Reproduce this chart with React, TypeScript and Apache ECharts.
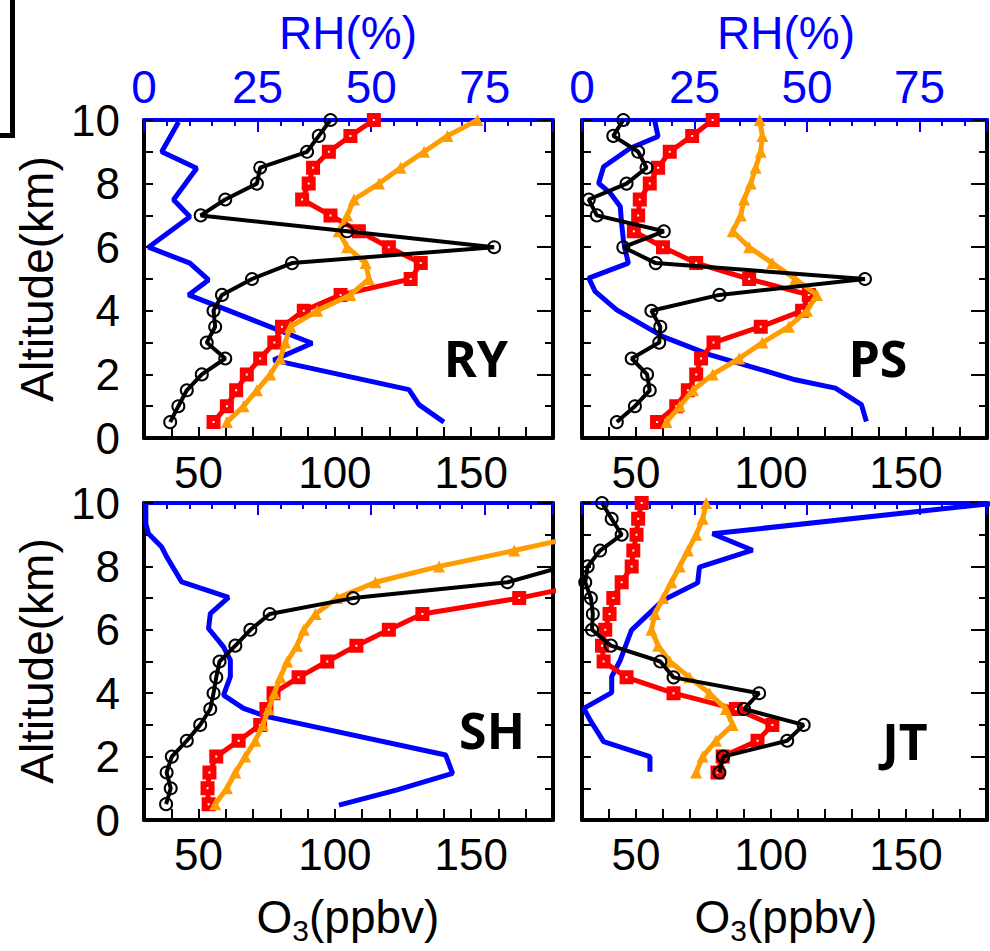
import React, { useEffect, useRef } from 'react';
import * as echarts from 'echarts';

// Altitude levels (km) shared by the O3 profiles
const ALT = [0.5, 1, 1.5, 2, 2.5, 3, 3.5, 4, 4.5, 5, 5.5, 6, 6.5, 7, 7.5, 8, 8.5, 9, 9.5, 10];

const PANEL_NAMES = ['RY', 'PS', 'SH', 'JT'];

// O3 (ppbv) profiles
const RY_BLACK = [39.6, 42.6, 45.7, 51.2, 59.8, 53.0, 56.1, 55.5, 58.6, 69.6, 84.3, 158.4, 104.5, 50.8, 59.8, 71.4, 72.6, 89.8, 94.1, 98.4];
const RY_RED = [55.5, 60.4, 63.8, 67.7, 72.6, 77.8, 80.6, 88.6, 102.1, 127.8, 131.5, 119.8, 108.8, 98.4, 88.0, 90.4, 92.0, 97.8, 105.7, 114.3];
const RY_ORANGE = [60.4, 66.5, 71.4, 76.3, 80.0, 81.8, 83.7, 93.5, 105.7, 112.5, 111.3, 104.5, 101.4, 104.5, 107.0, 116.2, 124.1, 132.7, 141.3, 152.3];

const PS_BLACK = [42.9, 49.6, 55.1, 54.1, 48.4, 58.6, 59.0, 55.7, 80.9, 134.8, 57.3, 45.3, 60.3, 35.5, 32.5, 46.5, 53.9, 50.8, 41.6, 45.3];
const PS_RED = [57.8, 64.9, 69.2, 72.3, 74.1, 78.7, 96.2, 111.5, 114.0, 91.9, 72.3, 60.0, 49.2, 50.8, 51.4, 55.1, 58.2, 62.5, 70.8, 78.4];
const PS_ORANGE = [61.3, 66.2, 71.1, 78.4, 88.2, 96.8, 106.6, 113.3, 117.0, 109.0, 100.5, 91.9, 85.8, 88.8, 90.0, 92.5, 94.3, 96.2, 96.8, 95.8];

const SH_BLACK = [38.1, 39.8, 38.3, 40.2, 45.7, 50.6, 54.3, 55.5, 56.5, 57.7, 63.5, 69.0, 76.1, 106.7, 163.3, 184, null, null, null, null];
const SH_RED = [53.7, 53.3, 54.0, 56.5, 64.7, 72.6, 74.9, 77.5, 86.7, 97.2, 107.9, 119.8, 132.1, 167.6, 196, null, null, null, null, null];
const SH_ORANGE = [56.1, 60.4, 63.5, 67.1, 70.8, 73.6, 75.7, 77.8, 80.0, 82.5, 86.1, 88.6, 92.9, 100.8, 114.9, 138.2, 165.8, 192, null, null];

const JT_BLACK = [null, null, 80.9, 82.3, 106.0, 112.1, 90.0, 95.6, 63.9, 59.0, 40.7, 33.7, 34.0, 33.3, 31.2, 32.1, 36.7, 44.7, 41.0, 37.4];
const JT_RED = [null, null, 80.2, 82.1, 95.0, 100.5, 87.0, 63.9, 46.5, 38.0, 37.4, 38.6, 40.2, 41.6, 44.7, 48.4, 49.0, 50.2, 50.8, 52.1];
const JT_ORANGE = [null, null, 72.3, 74.7, 79.6, 85.8, 83.3, 77.2, 69.8, 62.5, 58.2, 55.7, 57.0, 60.0, 63.1, 66.2, 69.2, 72.3, 74.7, 76.0];

// RH (%) profiles: values and their altitudes (km)
const RY_RH = [66.0, 60.5, 58.3, 28.5, 37.0, 9.8, 14.2, 10.1, 1.0, 10.1, 6.5, 11.6, 3.9, 7.6];
const RY_RH_ALT = [0.5, 1.05, 1.52, 2.45, 2.98, 4.5, 4.97, 5.5, 6.0, 6.96, 7.49, 8.48, 9.0, 9.94];
const PS_RH = [63.2, 62.1, 56.3, 47.4, 38.6, 28.3, 18.0, 7.7, 2.9, 1.5, 10.3, 9.6, 9.2, 8.8, 8.5, 6.3, 3.7, 4.8, 10.7, 16.9, 16.2];
const PS_RH_ALT = [0.52, 1.05, 1.57, 1.83, 2.2, 2.62, 3.19, 4.03, 4.61, 5.03, 5.5, 5.92, 6.23, 6.75, 7.28, 7.7, 8.01, 8.53, 9.11, 9.48, 9.95];
const SH_RH = [42.9, 55.7, 67.9, 66.4, 27.1, 21.9, 17.5, 19.0, 19.0, 17.5, 14.2, 14.6, 18.6, 8.3, 5.0, 3.9, 1.0, 0.4, 0.4];
const SH_RH_ALT = [0.47, 0.95, 1.47, 2.05, 3.26, 3.52, 3.94, 4.52, 5.04, 5.46, 6.04, 6.51, 7.02, 7.51, 8.3, 8.61, 9.03, 9.35, 9.98];
const JT_RH = [15.1, 15.1, 4.8, 1.8, 0.4, 6.6, 6.6, 8.5, 11.0, 18.0, 25.7, 26.1, 37.9, 29.0, 92];
const JT_RH_ALT = [1.52, 2.0, 2.47, 3.15, 3.52, 4.02, 4.52, 5.04, 5.99, 6.93, 7.48, 7.98, 8.51, 9.03, 10];

const O3_TICKS = [50, 100, 150];
const RH_TICKS = [0, 25, 50, 75];
const ALT_TICKS = [0, 2, 4, 6, 8, 10];

const PANELS = [
  { black: RY_BLACK, red: RY_RED, orange: RY_ORANGE, rh: RY_RH, rhAlt: RY_RH_ALT },
  { black: PS_BLACK, red: PS_RED, orange: PS_ORANGE, rh: PS_RH, rhAlt: PS_RH_ALT },
  { black: SH_BLACK, red: SH_RED, orange: SH_ORANGE, rh: SH_RH, rhAlt: SH_RH_ALT },
  { black: JT_BLACK, red: JT_RED, orange: JT_ORANGE, rh: JT_RH, rhAlt: JT_RH_ALT },
];

const GRIDS = [
  { left: 144, top: 120, width: 409, height: 318 },
  { left: 582, top: 120, width: 409, height: 318 },
  { left: 144, top: 503, width: 409, height: 317 },
  { left: 582, top: 503, width: 409, height: 317 },
];

const LABEL_POS = [
  [476, 358],
  [878, 358],
  [492, 730],
  [905, 741],
];

const FONT = '"Liberation Sans", Arial, Helvetica, sans-serif';
const BLUE = '#0000FF';
const ORANGE = '#FF9C00';
const RED = '#FF0000';

function pairs(vals: (number | null)[], alts: number[]) {
  return vals.map((v, i) => [v, alts[i]]);
}

export default function App() {
  const ref = useRef<HTMLDivElement>(null);

  useEffect(() => {
    if (!ref.current) return;
    const chart = echarts.init(ref.current, null, { renderer: 'svg' });

    const xAxis: any[] = [];
    const yAxis: any[] = [];
    const series: any[] = [];

    GRIDS.forEach((g, i) => {
      const upper = i < 2;
      const leftCol = i % 2 === 0;
      // O3 bottom axis
      xAxis.push({
        gridIndex: i,
        type: 'value',
        position: 'bottom',
        min: 30,
        max: 180,
        interval: 10,
        axisLine: { onZero: false, lineStyle: { color: '#000', width: 4 } },
        axisTick: { inside: true, length: 11, lineStyle: { color: '#000', width: 2 } },
        axisLabel: {
          fontSize: 44,
          fontFamily: FONT,
          color: '#000',
          margin: 12,
          formatter: (v: number) => (O3_TICKS.includes(v) ? String(v) : ''),
        },
        splitLine: { show: false },
      });
      // RH top axis (minor ticks + line)
      xAxis.push({
        gridIndex: i,
        type: 'value',
        position: 'top',
        min: 0,
        max: 90,
        interval: 5,
        axisLine: { onZero: false, lineStyle: { color: BLUE, width: 4 } },
        axisTick: { inside: true, length: 6, lineStyle: { color: BLUE, width: 2 } },
        axisLabel: { show: false },
        splitLine: { show: false },
      });
      // RH top axis (major ticks + labels)
      xAxis.push({
        gridIndex: i,
        type: 'value',
        position: 'top',
        min: 0,
        max: 90,
        interval: 25,
        axisLine: { show: false, onZero: false },
        axisTick: { inside: true, length: 12, lineStyle: { color: BLUE, width: 2 } },
        axisLabel: {
          show: upper,
          fontSize: 46,
          fontFamily: FONT,
          color: BLUE,
          margin: 10,
          formatter: (v: number) => (RH_TICKS.includes(v) ? String(v) : ''),
        },
        splitLine: { show: false },
      });
      // Altitude left axis
      yAxis.push({
        gridIndex: i,
        type: 'value',
        position: 'left',
        min: 0,
        max: 10,
        interval: 1,
        axisLine: { onZero: false, lineStyle: { color: '#000', width: 4 } },
        axisTick: { inside: true, length: 9, lineStyle: { color: '#000', width: 2 } },
        axisLabel: {
          show: leftCol,
          fontSize: 44,
          fontFamily: FONT,
          color: '#000',
          margin: 24,
          formatter: (v: number) => (ALT_TICKS.includes(v) ? String(v) : ''),
        },
        splitLine: { show: false },
      });
      // Altitude right axis
      yAxis.push({
        gridIndex: i,
        type: 'value',
        position: 'right',
        min: 0,
        max: 10,
        interval: 2,
        axisLine: { onZero: false, lineStyle: { color: '#000', width: 4 } },
        axisTick: { inside: true, length: 16, lineStyle: { color: '#000', width: 2 } },
        minorTick: { show: true, splitNumber: 2, length: 8, lineStyle: { color: '#000', width: 2 } },
        axisLabel: { show: false },
        splitLine: { show: false },
      });

      const p = PANELS[i];
      const xO3 = 3 * i;
      const xRH = 3 * i + 1;
      const yi = 2 * i;
      series.push({
        type: 'line',
        xAxisIndex: xRH,
        yAxisIndex: yi,
        data: pairs(p.rh, p.rhAlt),
        showSymbol: false,
        symbol: 'none',
        lineStyle: { color: BLUE, width: 5 },
        clip: true,
        z: 2,
      });
      series.push({
        type: 'line',
        xAxisIndex: xO3,
        yAxisIndex: yi,
        data: pairs(p.red, ALT),
        symbol: 'rect',
        symbolSize: 8,
        itemStyle: { color: '#ffffff', borderColor: RED, borderWidth: 6 },
        lineStyle: { color: RED, width: 5 },
        clip: true,
        z: 3,
      });
      series.push({
        type: 'line',
        xAxisIndex: xO3,
        yAxisIndex: yi,
        data: pairs(p.orange, ALT),
        symbol: 'triangle',
        symbolSize: 12,
        itemStyle: { color: ORANGE },
        lineStyle: { color: ORANGE, width: 5 },
        clip: true,
        z: 4,
      });
      series.push({
        type: 'line',
        xAxisIndex: xO3,
        yAxisIndex: yi,
        data: pairs(p.black, ALT),
        symbol: 'circle',
        symbolSize: 12,
        itemStyle: { color: 'rgba(0,0,0,0)', borderColor: '#000', borderWidth: 2 },
        lineStyle: { color: '#000', width: 4 },
        clip: true,
        z: 5,
      });
    });

    const graphic: any[] = [
      // partial frame at top-left
      { type: 'rect', shape: { x: 10, y: 0, width: 5, height: 138 }, style: { fill: '#000' } },
      { type: 'rect', shape: { x: 0, y: 133, width: 15, height: 5 }, style: { fill: '#000' } },
    ];
    [348, 786].forEach((cx) => {
      graphic.push({
        type: 'text',
        x: cx,
        y: 33,
        style: { text: 'RH(%)', fontSize: 46, fontFamily: FONT, fill: BLUE, textAlign: 'center', textVerticalAlign: 'middle' },
      });
      graphic.push({
        type: 'text',
        x: cx,
        y: 917,
        style: {
          text: '{a|O}{b|3}{a|(ppbv)}',
          textAlign: 'center',
          textVerticalAlign: 'middle',
          rich: {
            a: { fontSize: 46, fontFamily: FONT, fill: '#000' },
            b: { fontSize: 30, fontFamily: FONT, fill: '#000', padding: [26, 0, 0, 0] },
          },
        },
      });
    });
    [279, 661].forEach((cy) => {
      graphic.push({
        type: 'text',
        x: 37,
        y: cy,
        rotation: Math.PI / 2,
        style: { text: 'Altitude(km)', fontSize: 46, fontFamily: FONT, fill: '#000', textAlign: 'center', textVerticalAlign: 'middle' },
      });
    });
    PANEL_NAMES.forEach((name, i) => {
      graphic.push({
        type: 'text',
        x: LABEL_POS[i][0],
        y: LABEL_POS[i][1],
        z: 100,
        style: {
          text: name,
          fontSize: 50,
          fontWeight: 'bold',
          fontFamily: '"Noto Sans", "Open Sans", sans-serif',
          fill: '#000',
          textAlign: 'center',
          textVerticalAlign: 'middle',
        },
      });
    });

    chart.setOption({
      animation: false,
      backgroundColor: '#ffffff',
      grid: GRIDS.map((g) => ({ ...g, containLabel: false })),
      xAxis,
      yAxis,
      series,
      graphic,
    });

    return () => chart.dispose();
  }, []);

  return (
    <div
      ref={ref}
      style={{ position: 'absolute', left: 0, top: 0, width: 990, height: 951, background: '#fff' }}
    />
  );
}
